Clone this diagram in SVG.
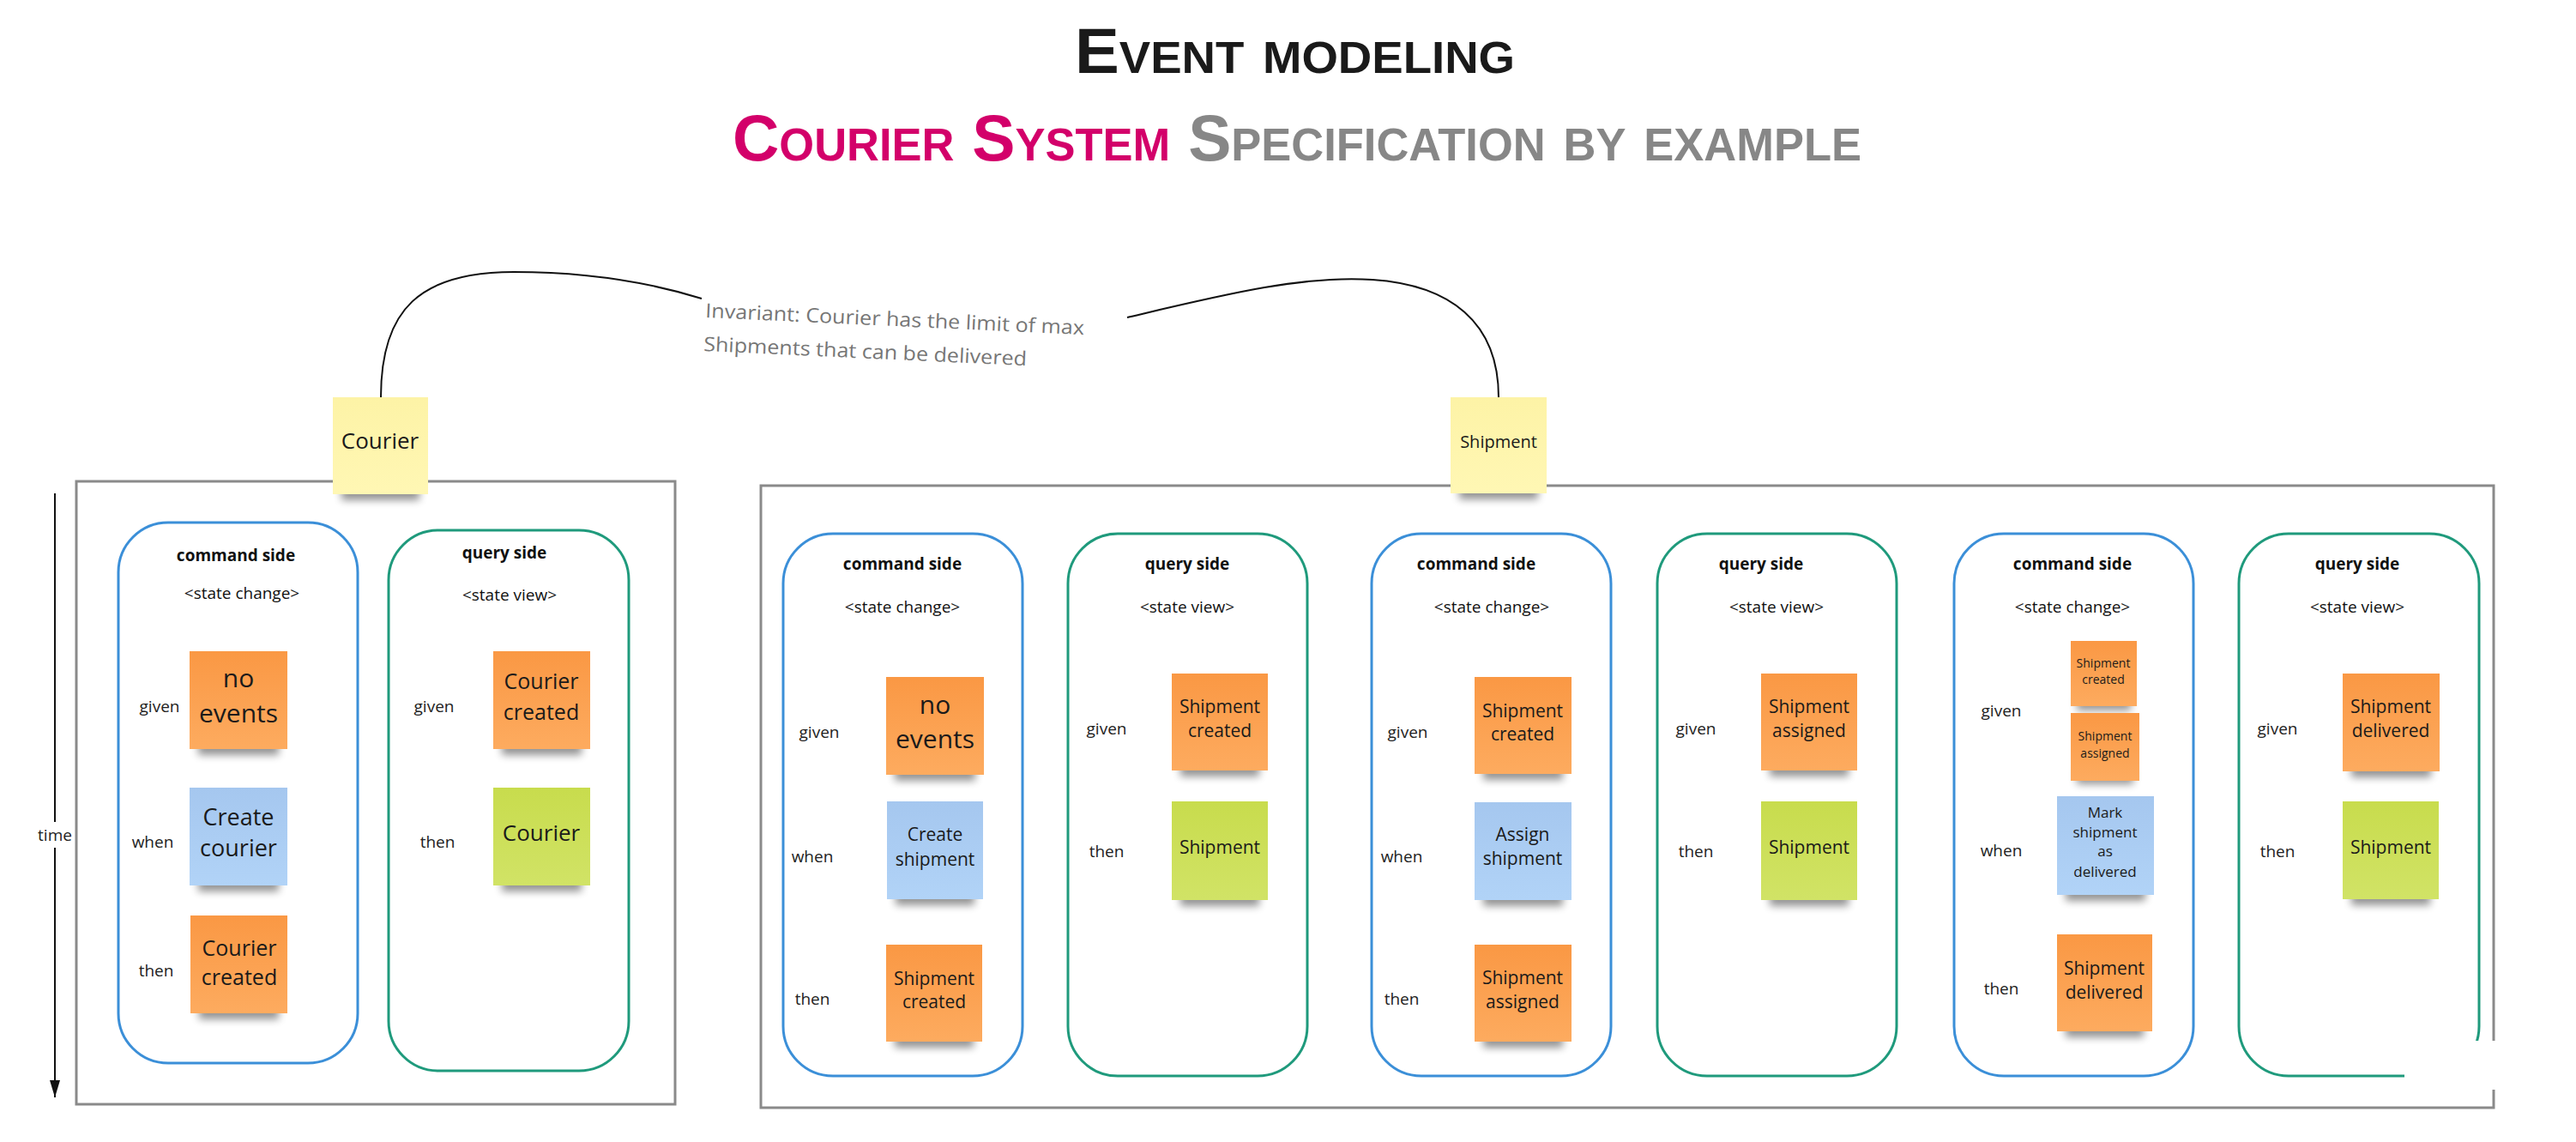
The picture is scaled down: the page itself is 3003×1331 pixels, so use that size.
<svg xmlns="http://www.w3.org/2000/svg" width="3003" height="1331" viewBox="0 0 3003 1331">
<defs>
<style>
.box{fill:none;stroke:#8a8a8a;stroke-width:3}
.cmd{fill:none;stroke:#3b8fd8;stroke-width:3}
.qry{fill:none;stroke:#1f9a7c;stroke-width:3}
.hdr{font-family:"Open Sans","Noto Sans",sans-serif;font-weight:700;font-size:19px;fill:#111;text-anchor:middle}
.sub{font-family:"Open Sans","Noto Sans",sans-serif;font-size:19px;fill:#111;text-anchor:middle}
.lbl{font-family:"Open Sans","Noto Sans",sans-serif;font-size:19px;fill:#222;text-anchor:middle}
.nt{font-family:"Open Sans","Noto Sans",sans-serif;fill:#1a1a1a;text-anchor:middle}
.o{fill:url(#gO)}
.b{fill:url(#gB)}
.g{fill:url(#gG)}
.y{fill:url(#gY)}
.sh{fill:#000;opacity:.42;filter:url(#blur)}
.con{fill:none;stroke:#111;stroke-width:2}
.title{font-family:"Liberation Sans","DejaVu Sans",sans-serif;font-weight:900;font-variant:small-caps}
.inv{font-family:"Open Sans","Noto Sans",sans-serif;font-size:23px;fill:#767676}
</style>
<linearGradient id="gO" x1="0" y1="0" x2="0" y2="1"><stop offset="0" stop-color="#fa9844"/><stop offset="1" stop-color="#fdab5f"/></linearGradient>
<linearGradient id="gB" x1="0" y1="0" x2="0" y2="1"><stop offset="0" stop-color="#a5c7ef"/><stop offset="1" stop-color="#b1d3f7"/></linearGradient>
<linearGradient id="gG" x1="0" y1="0" x2="0" y2="1"><stop offset="0" stop-color="#c8dc4d"/><stop offset="1" stop-color="#d1e366"/></linearGradient>
<linearGradient id="gY" x1="0" y1="0" x2="0" y2="1"><stop offset="0" stop-color="#fdf3a6"/><stop offset="1" stop-color="#fff7b4"/></linearGradient>
<filter id="blur" x="-20%" y="-60%" width="140%" height="220%"><feGaussianBlur stdDeviation="5"/></filter>
<marker id="arr" viewBox="0 0 20 12" refX="20" refY="6" markerWidth="20" markerHeight="12" markerUnits="userSpaceOnUse" orient="auto"><path d="M0,0 L20,6 L0,12 z" fill="#111"/></marker>
</defs>
<rect width="3003" height="1331" fill="#fff"/>

<g id="title">
<text class="title" x="1253" y="85" font-size="74" fill="#1a1a1a" textLength="513" lengthAdjust="spacingAndGlyphs">Event modeling</text>
<text class="title" x="854" y="187" font-size="76" textLength="1316" lengthAdjust="spacingAndGlyphs"><tspan fill="#d3006a">Courier System</tspan><tspan fill="#878787"> Specification by example</tspan></text>
</g>

<g id="frames">
<rect class="box" x="89" y="561" width="698" height="726"/>
<rect class="box" x="887" y="566" width="2020" height="725"/>
</g>

<g id="columns">
<rect id="left-command-side" class="cmd" x="138" y="609" width="279" height="630" rx="58"/>
<rect id="left-query-side" class="qry" x="453" y="618" width="280" height="630" rx="58"/>
<rect id="c1-command-side" class="cmd" x="913" y="622" width="279" height="632" rx="58"/>
<rect id="c2-query-side" class="qry" x="1245" y="622" width="279" height="632" rx="58"/>
<rect id="c3-command-side" class="cmd" x="1599" y="622" width="279" height="632" rx="58"/>
<rect id="c4-query-side" class="qry" x="1932" y="622" width="279" height="632" rx="58"/>
<rect id="c5-command-side" class="cmd" x="2278" y="622" width="279" height="632" rx="58"/>
<rect id="c6-query-side" class="qry" x="2610" y="622" width="280" height="632" rx="58"/>
</g>

<rect id="patch" x="2803" y="1213" width="115" height="57" fill="#fff"/>

<g id="headers">
<text class="hdr" x="275" y="654">command side</text><text class="sub" x="282" y="698">&lt;state change&gt;</text>
<text class="hdr" x="588" y="651">query side</text><text class="sub" x="594" y="700">&lt;state view&gt;</text>
<text class="hdr" x="1052" y="664">command side</text><text class="sub" x="1052" y="714">&lt;state change&gt;</text>
<text class="hdr" x="1384" y="664">query side</text><text class="sub" x="1384" y="714">&lt;state view&gt;</text>
<text class="hdr" x="1721" y="664">command side</text><text class="sub" x="1739" y="714">&lt;state change&gt;</text>
<text class="hdr" x="2053" y="664">query side</text><text class="sub" x="2071" y="714">&lt;state view&gt;</text>
<text class="hdr" x="2416" y="664">command side</text><text class="sub" x="2416" y="714">&lt;state change&gt;</text>
<text class="hdr" x="2748" y="664">query side</text><text class="sub" x="2748" y="714">&lt;state view&gt;</text>
</g>

<g id="labels">
<text class="lbl" x="186" y="830">given</text><text class="lbl" x="178" y="988">when</text><text class="lbl" x="182" y="1138">then</text>
<text class="lbl" x="506" y="830">given</text><text class="lbl" x="510" y="988">then</text>
<text class="lbl" x="955" y="860">given</text><text class="lbl" x="947" y="1005">when</text><text class="lbl" x="947" y="1171">then</text>
<text class="lbl" x="1290" y="856">given</text><text class="lbl" x="1290" y="999">then</text>
<text class="lbl" x="1641" y="860">given</text><text class="lbl" x="1634" y="1005">when</text><text class="lbl" x="1634" y="1171">then</text>
<text class="lbl" x="1977" y="856">given</text><text class="lbl" x="1977" y="999">then</text>
<text class="lbl" x="2333" y="835">given</text><text class="lbl" x="2333" y="998">when</text><text class="lbl" x="2333" y="1159">then</text>
<text class="lbl" x="2655" y="856">given</text><text class="lbl" x="2655" y="999">then</text>
</g>

<g id="connectors">
<path class="con" d="M444,463 C444,360 490,317 599,317 C690,317 760,330 818,348"/>
<path class="con" d="M1314,370 C1420,345 1520,320 1600,326 C1690,332 1747,375 1747,463"/>
<line x1="64" y1="575" x2="64" y2="1279" stroke="#111" stroke-width="2" marker-end="url(#arr)"/>
<rect x="42" y="958" width="44" height="30" fill="#fff"/>
<text class="lbl" x="64" y="980">time</text>
</g>

<g id="invariant">
<text class="inv" x="822" y="370" transform="rotate(2.6 822 370)" textLength="442" lengthAdjust="spacingAndGlyphs">Invariant: Courier has the limit of max</text>
<text class="inv" x="820" y="409" transform="rotate(2.6 820 409)" textLength="377" lengthAdjust="spacingAndGlyphs">Shipments that can be delivered</text>
</g>

<g id="note-courier-aggregate"><rect class="sh" x="398" y="561" width="91" height="22"/><rect class="y" x="388" y="463" width="111" height="113"/><text class="nt" font-size="26" x="443" y="523">Courier</text></g>
<g id="note-shipment-aggregate"><rect class="sh" x="1701" y="560" width="92" height="22"/><rect class="y" x="1691" y="463" width="112" height="112"/><text class="nt" font-size="20" x="1747" y="522">Shipment</text></g>

<g id="note-l-no-events"><rect class="sh" x="231" y="858" width="94" height="22"/><rect class="o" x="221" y="759" width="114" height="114"/><text class="nt" font-size="30" x="278" y="801">no</text><text class="nt" font-size="30" x="278" y="842">events</text></g>
<g id="note-l-create-courier"><rect class="sh" x="231" y="1017" width="94" height="22"/><rect class="b" x="221" y="918" width="114" height="114"/><text class="nt" font-size="27" x="278" y="962">Create</text><text class="nt" font-size="27" x="278" y="998">courier</text></g>
<g id="note-l-courier-created"><rect class="sh" x="232" y="1166" width="93" height="22"/><rect class="o" x="222" y="1067" width="113" height="114"/><text class="nt" font-size="25" x="279" y="1114">Courier</text><text class="nt" font-size="25" x="279" y="1148">created</text></g>
<g id="note-lq-courier-created"><rect class="sh" x="585" y="858" width="93" height="22"/><rect class="o" x="575" y="759" width="113" height="114"/><text class="nt" font-size="25" x="631" y="803">Courier</text><text class="nt" font-size="25" x="631" y="839">created</text></g>
<g id="note-lq-courier"><rect class="sh" x="585" y="1017" width="93" height="22"/><rect class="g" x="575" y="918" width="113" height="114"/><text class="nt" font-size="26" x="631" y="980">Courier</text></g>

<g id="note-c1-no-events"><rect class="sh" x="1043" y="888" width="94" height="22"/><rect class="o" x="1033" y="789" width="114" height="114"/><text class="nt" font-size="30" x="1090" y="832">no</text><text class="nt" font-size="30" x="1090" y="872">events</text></g>
<g id="note-c1-create-shipment"><rect class="sh" x="1044" y="1033" width="92" height="22"/><rect class="b" x="1034" y="934" width="112" height="114"/><text class="nt" font-size="21" x="1090" y="980">Create</text><text class="nt" font-size="21" x="1090" y="1009">shipment</text></g>
<g id="note-c1-shipment-created"><rect class="sh" x="1043" y="1199" width="92" height="22"/><rect class="o" x="1033" y="1101" width="112" height="113"/><text class="nt" font-size="21" x="1089" y="1148">Shipment</text><text class="nt" font-size="21" x="1089" y="1175">created</text></g>

<g id="note-c2-shipment-created"><rect class="sh" x="1376" y="883" width="92" height="22"/><rect class="o" x="1366" y="785" width="112" height="113"/><text class="nt" font-size="21" x="1422" y="831">Shipment</text><text class="nt" font-size="21" x="1422" y="859">created</text></g>
<g id="note-c2-shipment"><rect class="sh" x="1376" y="1034" width="92" height="22"/><rect class="g" x="1366" y="934" width="112" height="115"/><text class="nt" font-size="21" x="1422" y="995">Shipment</text></g>

<g id="note-c3-shipment-created"><rect class="sh" x="1729" y="887" width="93" height="22"/><rect class="o" x="1719" y="789" width="113" height="113"/><text class="nt" font-size="21" x="1775" y="836">Shipment</text><text class="nt" font-size="21" x="1775" y="863">created</text></g>
<g id="note-c3-assign-shipment"><rect class="sh" x="1729" y="1034" width="93" height="22"/><rect class="b" x="1719" y="935" width="113" height="114"/><text class="nt" font-size="21" x="1775" y="980">Assign</text><text class="nt" font-size="21" x="1775" y="1008">shipment</text></g>
<g id="note-c3-shipment-assigned"><rect class="sh" x="1729" y="1199" width="93" height="22"/><rect class="o" x="1719" y="1101" width="113" height="113"/><text class="nt" font-size="21" x="1775" y="1147">Shipment</text><text class="nt" font-size="21" x="1775" y="1175">assigned</text></g>

<g id="note-c4-shipment-assigned"><rect class="sh" x="2063" y="883" width="92" height="22"/><rect class="o" x="2053" y="785" width="112" height="113"/><text class="nt" font-size="21" x="2109" y="831">Shipment</text><text class="nt" font-size="21" x="2109" y="859">assigned</text></g>
<g id="note-c4-shipment"><rect class="sh" x="2063" y="1034" width="92" height="22"/><rect class="g" x="2053" y="934" width="112" height="115"/><text class="nt" font-size="21" x="2109" y="995">Shipment</text></g>

<g id="note-c5-shipment-created"><rect class="sh" x="2421" y="810" width="63" height="18"/><rect class="o" x="2414" y="747" width="77" height="76"/><text class="nt" font-size="14" x="2452" y="778">Shipment</text><text class="nt" font-size="14" x="2452" y="797">created</text></g>
<g id="note-c5-shipment-assigned"><rect class="sh" x="2421" y="896" width="66" height="18"/><rect class="o" x="2414" y="831" width="80" height="79"/><text class="nt" font-size="14" x="2454" y="863">Shipment</text><text class="nt" font-size="14" x="2454" y="883">assigned</text></g>
<g id="note-c5-mark-delivered"><rect class="sh" x="2408" y="1028" width="93" height="22"/><rect class="b" x="2398" y="928" width="113" height="115"/><text class="nt" font-size="17" x="2454" y="953">Mark</text><text class="nt" font-size="17" x="2454" y="976">shipment</text><text class="nt" font-size="17" x="2454" y="998">as</text><text class="nt" font-size="17" x="2454" y="1022">delivered</text></g>
<g id="note-c5-shipment-delivered"><rect class="sh" x="2408" y="1187" width="91" height="22"/><rect class="o" x="2398" y="1089" width="111" height="113"/><text class="nt" font-size="21" x="2453" y="1136">Shipment</text><text class="nt" font-size="21" x="2453" y="1164">delivered</text></g>

<g id="note-c6-shipment-delivered"><rect class="sh" x="2741" y="884" width="93" height="22"/><rect class="o" x="2731" y="785" width="113" height="114"/><text class="nt" font-size="21" x="2787" y="831">Shipment</text><text class="nt" font-size="21" x="2787" y="859">delivered</text></g>
<g id="note-c6-shipment"><rect class="sh" x="2741" y="1033" width="92" height="22"/><rect class="g" x="2731" y="934" width="112" height="114"/><text class="nt" font-size="21" x="2787" y="995">Shipment</text></g>
</svg>
